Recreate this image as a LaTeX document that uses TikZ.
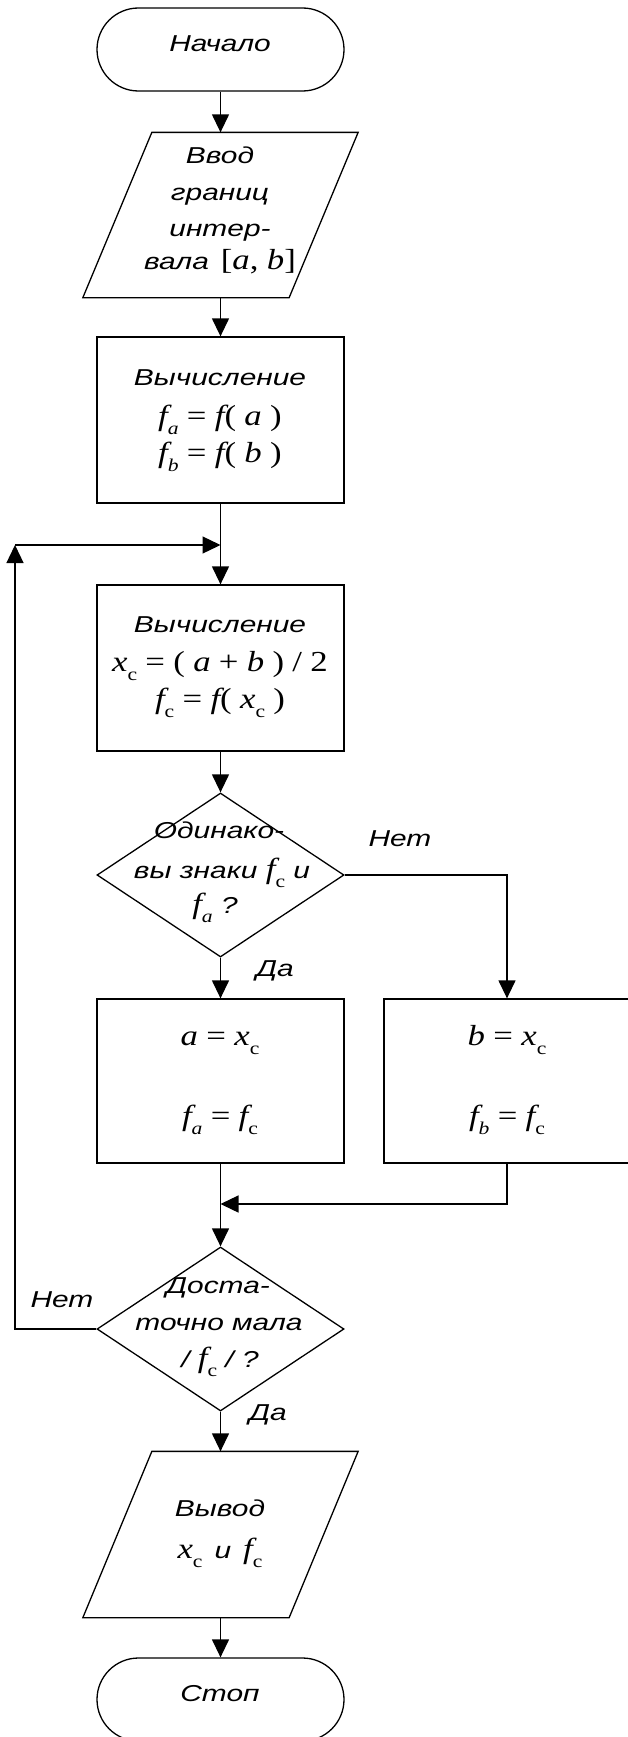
\documentclass[tikz,border=0pt]{standalone}
\usepackage{fontspec}
\setmainfont[FakeStretch=1.3]{Liberation Sans}
\newfontfamily\mf[FakeStretch=1.2]{Liberation Serif}
\usetikzlibrary{shapes.geometric,shapes.misc,arrows.meta,calc}
\newcommand\mi[1]{{\mf\fontsize{29}{29}\selectfont\itshape #1}}
\newcommand\mup[1]{{\mf\fontsize{29}{29}\selectfont\upshape #1}}
\newcommand\sbc{\raisebox{-9pt}{\mf\fontsize{18}{18}\selectfont\upshape c}}
\newcommand\sbi[1]{\raisebox{-9pt}{\mf\fontsize{18}{18}\selectfont\itshape #1}}
\begin{document}
\begin{tikzpicture}[x=1pt,y=-1pt,
  line width=1.3pt,
  every node/.style={font=\fontsize{23}{28}\selectfont\itshape},
  term/.style={draw, rounded rectangle, minimum width=247pt, minimum height=83pt, inner sep=0pt},
  box/.style={draw, rectangle, minimum width=247pt, minimum height=166pt, inner sep=0pt},
  dec/.style={draw, diamond, minimum width=247pt, minimum height=164pt, inner sep=0pt},
  iobox/.style={rectangle, minimum width=205pt, minimum height=164pt, inner sep=0pt},
  ln/.style={anchor=base, inner sep=0pt},
  arr/.style={-{Triangle[length=18pt,width=17pt]}},
]
\useasboundingbox (0,0) rectangle (628,1737);

% start
\node[term] (start) at (220.5,49.5) {};
\node[ln] (tstart) at (220,52) {Начало};

% input
\node[iobox] (in) at (220.5,215) {};
\draw ($(in.north west)+(34.5,0)$) -- ($(in.north east)+(34.5,0)$) -- ($(in.south east)+(-34.5,0)$) -- ($(in.south west)+(-34.5,0)$) -- cycle;
\node[ln] (tin1) at (220,163) {Ввод};
\node[ln] (tin2) at (220,200) {границ};
\node[ln] (tin3) at (220,236) {интер-};
\node[ln] (tin4) at (220,269) {вала\hspace{12pt}\mup{[}\mi{a}\mup{,} \mi{b}\mup{]}};

% calc 1
\node[box] (c1) at (220.5,420) {};
\node[ln] (tc1a) at (220,385) {Вычисление};
\node[ln] (tc1b) at (220,425) {\mi{f}\sbi{a} \mup{=} \mi{f}\mup{(} \mi{a} \mup{)}};
\node[ln] (tc1c) at (220,462) {\mi{f}\sbi{b} \mup{=} \mi{f}\mup{(} \mi{b} \mup{)}};

\coordinate (j1) at (220.5,545);
\coordinate (loopc) at (15,545);

% calc 2
\node[box] (c2) at (220.5,668) {};
\node[ln] (tc2a) at (220,632) {Вычисление};
\node[ln] (tc2b) at (220,671) {\mi{x}\sbc\ \mup{=} \mup{(} \mi{a} \mup{+} \mi{b} \mup{)} \mup{/} \mup{2}};
\node[ln] (tc2c) at (220,708) {\mi{f}\sbc\ \mup{=} \mi{f}\mup{(} \mi{x}\sbc\ \mup{)}};

% decision 1
\node[dec] (d1) at (220.5,875) {};
\node[ln] (td1a) at (219,838) {Одинако-};
\node[ln] (td1b) at (222,878) {вы знаки \mi{f}\sbc\ и};
\node[ln] (td1c) at (215,913) {\mi{f}\sbi{a}\ ?};

% assignments
\node[box, minimum height=164pt] (ba) at (220.5,1081) {};
\node[ln] (tba1) at (220,1045) {\mi{a} \mup{=} \mi{x}\sbc};
\node[ln] (tba2) at (220,1125) {\mi{f}\sbi{a} \mup{=} \mi{f}\sbc};
\node[box, minimum height=164pt, minimum width=246pt] (bb) at (507,1081) {};
\node[ln] (tbb1) at (507,1045) {\mi{b} \mup{=} \mi{x}\sbc};
\node[ln] (tbb2) at (507,1125) {\mi{f}\sbi{b} \mup{=} \mi{f}\sbc};

\coordinate (m) at (220.5,1204);

% decision 2
\node[dec] (d2) at (220.5,1329) {};
\node[ln] (td2a) at (218,1293) {Доста-};
\node[ln] (td2b) at (219,1330) {точно мала};
\node[ln] (td2c) at (220,1367) {/ \mi{f}\sbc\ / ?};

% output
\node[iobox, minimum height=165pt] (out) at (220.5,1534.5) {};
\draw ($(out.north west)+(34.5,0)$) -- ($(out.north east)+(34.5,0)$) -- ($(out.south east)+(-34.5,0)$) -- ($(out.south west)+(-34.5,0)$) -- cycle;
\node[ln] (tout1) at (220,1516) {Вывод};
\node[ln] (tout2) at (220,1558) {\mi{x}\sbc\hspace{12pt}и\hspace{12pt}\mi{f}\sbc};

% stop
\node[term] (stop) at (220.5,1699.5) {};
\node[ln] (tstop) at (220,1701) {Стоп};

% branch labels
\node[ln] (l1) at (400,846) {Нет};
\node[ln] (l2) at (275,976) {Да};
\node[ln] (l3) at (62,1307) {Нет};
\node[ln] (l4) at (268,1420) {Да};

% connectors
\draw[arr] (start) -- (in);
\draw[arr] (in) -- (c1);
\draw (c1) -- (j1);
\draw[arr] (j1) -- (c2);
\draw[arr] (c2) -- (d1);
\draw[arr] (d1) -- (ba);
\draw[arr] (d1.east) -| (bb.north);
\draw[arr] (ba) -- (d2);
\draw[arr] (bb.south) |- (m);
\draw[arr] (d2.west) -| (loopc);
\draw[arr] (loopc) -- (j1);
\draw[arr] (d2) -- (out);
\draw[arr] (out) -- (stop);
\end{tikzpicture}
\end{document}
